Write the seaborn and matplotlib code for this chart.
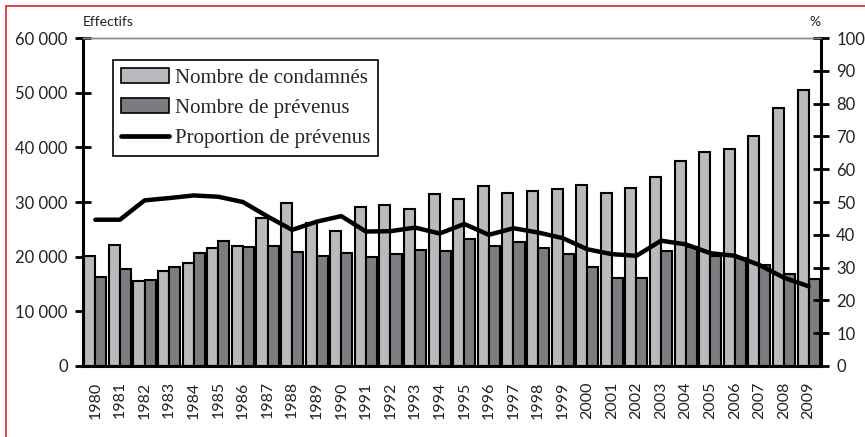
import numpy as np
import pandas as pd
import matplotlib
matplotlib.use("Agg")
import matplotlib.pyplot as plt
from matplotlib.lines import Line2D
from matplotlib.patches import Patch
import seaborn as sns

# data
years = [str(y) for y in range(1980, 2010)]
condamnes = [20100, 22100, 15600, 17400, 18900, 21500, 21900, 27000, 29900, 26250,
             24650, 29050, 29400, 28800, 31450, 30600, 32900, 31650, 32100, 32350,
             33200, 31700, 32500, 34600, 37550, 39100, 39750, 42000, 47200, 50400]
prevenus = [16300, 17800, 15700, 18150, 20700, 22800, 21850, 22000, 20900, 20200,
            20600, 19850, 20400, 21200, 20950, 23200, 21900, 22600, 21650, 20450,
            18150, 16150, 16150, 20950, 21850, 20050, 19750, 18500, 16850, 15950]
proportion = [44.6, 44.6, 50.5, 51.2, 52.0, 51.6, 50.0, 45.6, 41.5, 44.0,
              45.7, 41.0, 41.1, 42.2, 40.4, 43.3, 40.0, 42.0, 40.7, 39.0,
              35.6, 34.1, 33.6, 38.2, 37.1, 34.4, 33.6, 30.8, 26.9, 24.3]

series = ["Nombre de condamnés", "Nombre de prévenus"]
light = "#b9babe"
dark = "#7b7c81"

df = pd.DataFrame({"year": years * 2,
                   "value": condamnes + prevenus,
                   "serie": [series[0]] * len(years) + [series[1]] * len(years)})
df_pct = pd.DataFrame({"year": years, "pct": proportion})

sns.set_style("white")
plt.rcParams["font.family"] = ["Lato", "DejaVu Sans"]

fig = plt.figure(figsize=(8.65, 4.37), dpi=100)
ax = fig.add_axes([0.096, 0.1625, 0.853, 0.7505])

sns.barplot(data=df, x="year", y="value", hue="serie", palette=[light, dark],
            width=0.9, edgecolor="black", linewidth=1.5, ax=ax, legend=False)

ax2 = ax.twinx()
sns.pointplot(data=df_pct, x="year", y="pct", ax=ax2, color="black",
              markers="", linewidth=3.2, errorbar=None)

ax.set_ylim(0, 60000)
ax2.set_ylim(0, 100)
ax.set_xlim(-0.5, len(years) - 0.5)
ax2.set_xlim(-0.5, len(years) - 0.5)

ax.set_yticks(range(0, 60001, 10000))
ax.set_yticklabels([f"{v:,}".replace(",", " ") for v in range(0, 60001, 10000)])
ax2.set_yticks(range(0, 101, 10))
ax2.set_yticklabels([str(v) for v in range(0, 101, 10)])

ax.set_xticks(range(len(years)))
ax.set_xticklabels(years, rotation=90)
ax.set_xticks(np.arange(-0.5, len(years), 1), minor=True)
ax.tick_params(axis="x", which="major", length=0, pad=11, labelsize=11.5, labelcolor="#222222")
ax.tick_params(axis="x", which="minor", direction="inout", length=9, width=1.8, color="black")
ax.tick_params(axis="y", direction="inout", length=12, width=2, color="black", pad=5,
               labelsize=12, labelcolor="#222222")
ax2.tick_params(axis="y", direction="inout", length=12, width=2, color="black", pad=5,
                labelsize=12, labelcolor="#222222")
ax2.tick_params(axis="x", length=0, labelbottom=False)

ax.set_xlabel("")
ax.set_ylabel("")
ax2.set_xlabel("")
ax2.set_ylabel("")

for a in (ax, ax2):
    for s in ("left", "right", "bottom"):
        a.spines[s].set_color("black")
        a.spines[s].set_linewidth(2.2)
    a.spines["top"].set_color("#888888")
    a.spines["top"].set_linewidth(1)
ax.spines["right"].set_visible(False)
ax2.spines["left"].set_visible(False)
ax2.spines["bottom"].set_visible(False)

ax.text(0, 1.03, "Effectifs", transform=ax.transAxes, fontsize=10, ha="left",
        va="bottom", color="#222222")
ax2.text(1.0, 1.03, "%", transform=ax2.transAxes, fontsize=10, ha="right",
         va="bottom", color="#222222")

handles = [Patch(facecolor=light, edgecolor="black", linewidth=1.2),
           Patch(facecolor=dark, edgecolor="black", linewidth=1.2),
           Line2D([0], [0], color="black", linewidth=3.4)]
labels = series + ["Proportion de prévenus"]
leg = ax2.legend(handles, labels, loc="upper left", bbox_to_anchor=(0.0407, 0.933),
                 frameon=True, fancybox=False, edgecolor="black", framealpha=1,
                 prop={"family": "Liberation Serif", "size": 15},
                 handlelength=2.3, handleheight=0.7, handletextpad=0.25,
                 labelspacing=0.5, borderpad=0.4, borderaxespad=0)
leg.get_frame().set_linewidth(1.2)

# red frame of the original page
red = "#e3343f"
fig.add_artist(Line2D([0.0075, 0.0075], [0, 0.986], transform=fig.transFigure, color=red, linewidth=1.3))
fig.add_artist(Line2D([0.0075, 1], [0.986, 0.986], transform=fig.transFigure, color=red, linewidth=1.3))

plt.savefig("out.png", dpi=100)
